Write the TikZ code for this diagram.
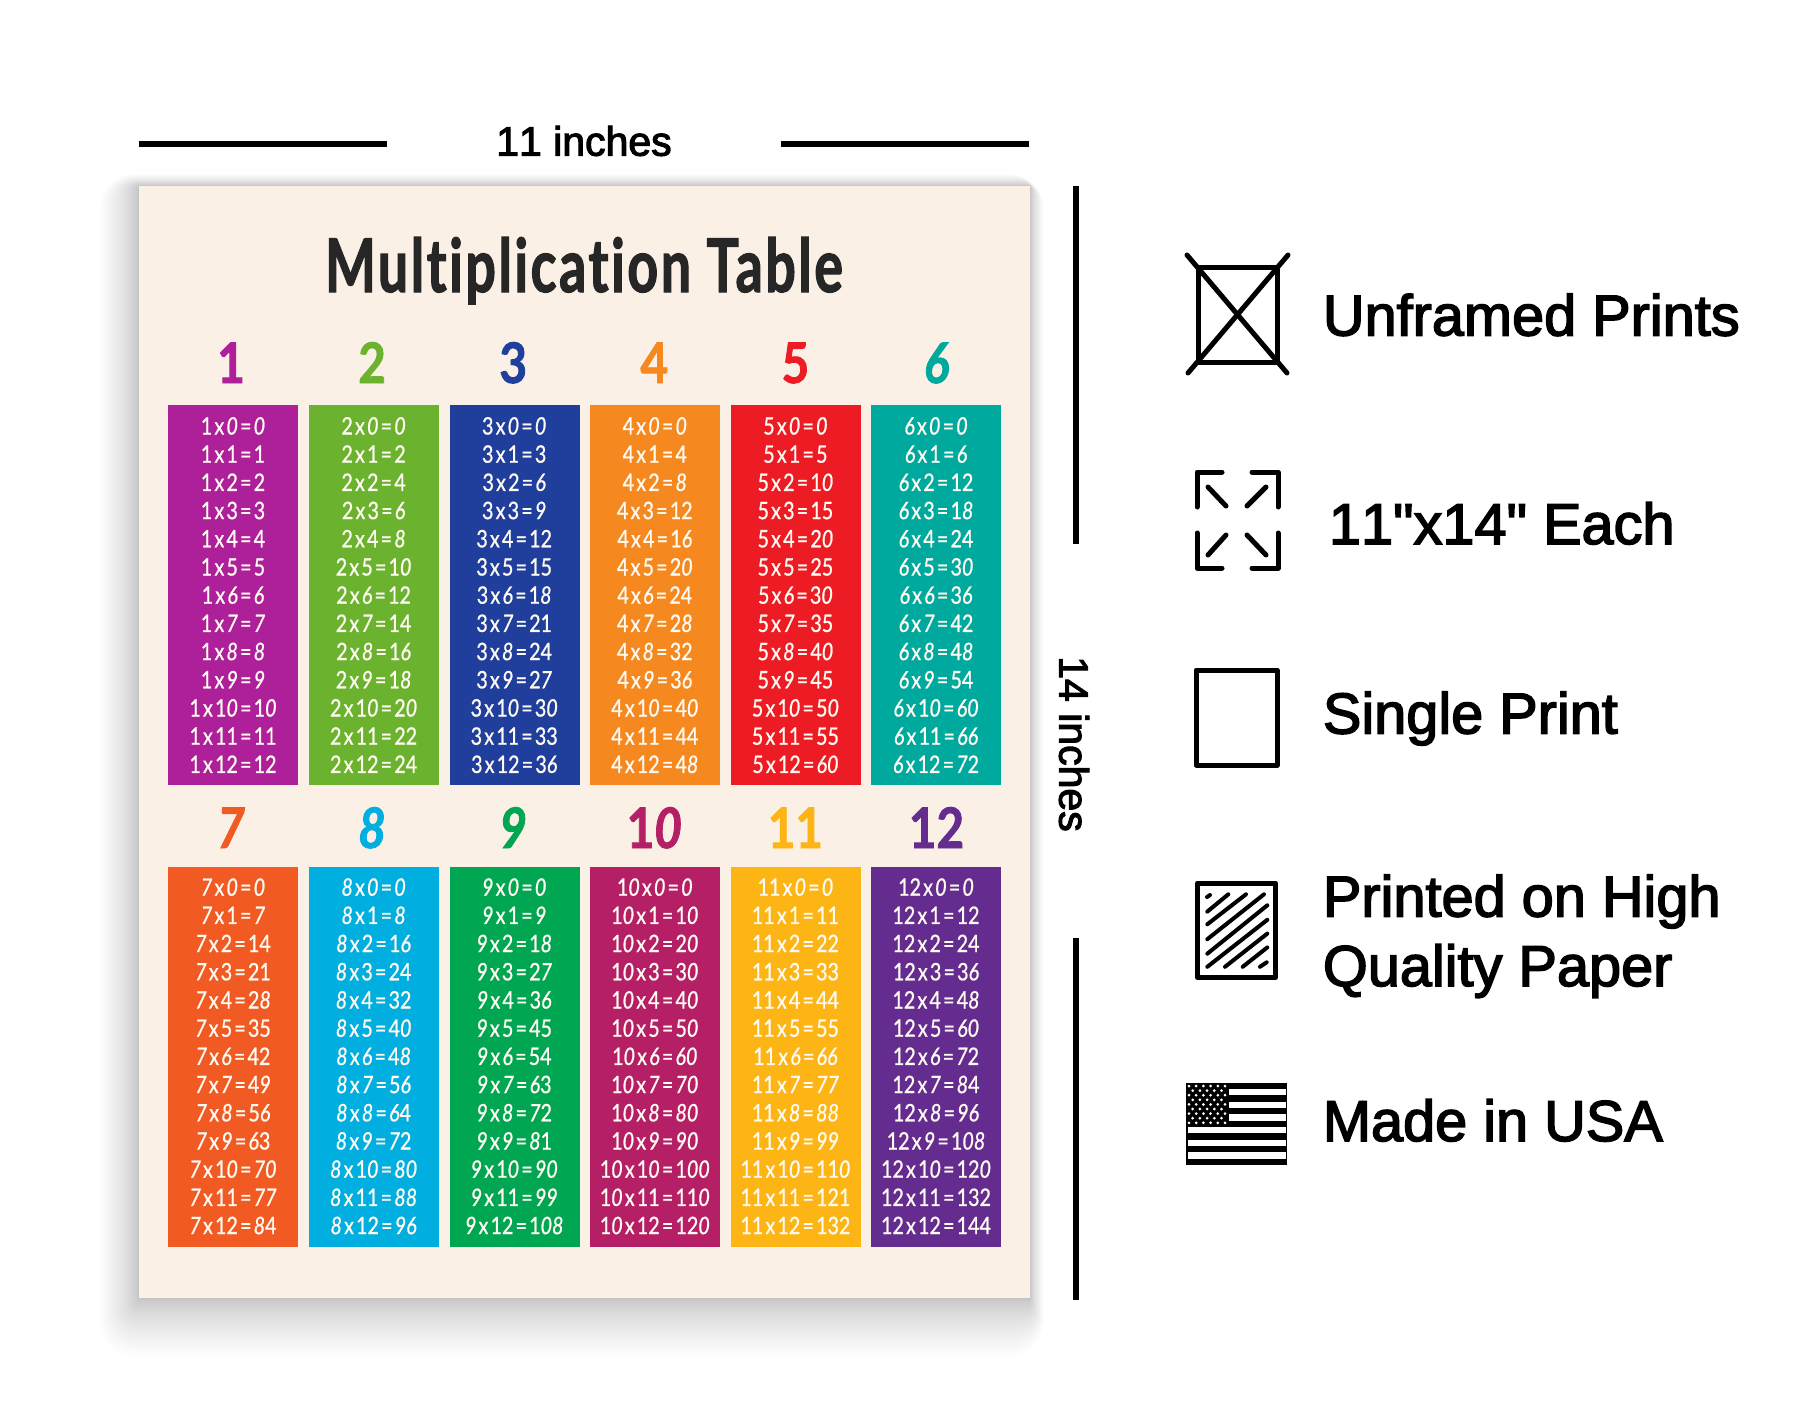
\documentclass[tikz,border=0pt]{standalone}
\usepackage{fontspec}
\setmainfont{Liberation Sans}
\newfontfamily\tabfont{Lato}[FakeStretch=.82,FakeBold=.9]
\newfontfamily\headfont{Lato}[FakeStretch=.85,FakeBold=1.5]
\newfontfamily\titlefont{Lato}[FakeStretch=.725,FakeBold=1.5,LetterSpace=3.5,Ligatures={NoCommon,NoRare,NoContextual}]
\newfontfamily\sidefont{Liberation Sans}[FakeBold=2.6,Kerning=Off]
\definecolor{c1}{HTML}{AE1F9A}
\definecolor{c2}{HTML}{6BB32E}
\definecolor{c3}{HTML}{203E9C}
\definecolor{c4}{HTML}{F5881F}
\definecolor{c5}{HTML}{ED1C24}
\definecolor{c6}{HTML}{00A99D}
\definecolor{c7}{HTML}{F15A22}
\definecolor{c8}{HTML}{00AEDF}
\definecolor{c9}{HTML}{00A651}
\definecolor{c10}{HTML}{B41F66}
\definecolor{c11}{HTML}{FDB515}
\definecolor{c12}{HTML}{652C90}
\definecolor{paper}{HTML}{FAF0E6}
\definecolor{ink}{HTML}{262626}
\definecolor{chalk}{HTML}{FFFAF2}
\def\digone#1{\ifcase#1\relax\textit{0}\or 1\or 2\or 3\or 4\or 5\or\textit{6}\or\textit{7}\or\textit{8}\or\textit{9}\fi}
\def\digscan#1{\ifx#1\relax\else\digone{#1}\expandafter\digscan\fi}
\newcommand\slantnum[1]{\edef\slanttmp{#1}\expandafter\digscan\slanttmp\relax}
\newcommand\eqline[3]{\slantnum{#1}\kern1.1pt x\kern1.1pt\slantnum{#2}\kern1.1pt=\kern1.1pt\slantnum{#3}}
\tikzset{
  paperbox/.style={fill=paper,draw=none},
  colbox/.style={draw=none,inner sep=0pt,minimum width=65pt,anchor=north west},
  headlabel/.style={font=\headfont\bfseries\fontsize{28}{28}\selectfont,inner sep=0pt,anchor=base},
  eqlabel/.style={font=\tabfont\fontsize{12}{12}\selectfont,text=chalk,inner sep=0pt,anchor=base},
  sidelabel/.style={font=\sidefont\fontsize{28.85}{28.85}\selectfont,anchor=base west,inner sep=0pt},
  dimlabel/.style={font=\sidefont\fontsize{20.5}{20.5}\selectfont,inner sep=0pt},
  dimline/.style={line width=3pt,black},
  iconline/.style={line width=2.5pt,black,line cap=round,line join=round},
  hatchline/.style={line width=2pt,black,line cap=round},
}
\begin{document}
\begin{tikzpicture}[x=.5pt,y=-.5pt]
\useasboundingbox (0,0) rectangle (1800,1414);
\fill[white] (0,0) rectangle (1800,1414);
% soft shadow
\foreach \s in {1,...,30}{
  \pgfmathsetmacro\f{(\s/30)^1.5}
  \fill[black,opacity=.0065,rounded corners=\f*18pt]
    (139-\f*40,186-\f*12) rectangle (1030+\f*14,1298+\f*58);
}
\fill[paperbox] (139,186) rectangle (1030,1298);
\node[font=\titlefont\bfseries\fontsize{37}{37}\selectfont,text=ink,inner sep=0pt,anchor=base] (title) at (584,292) {Multiplication Table};
% columns
\foreach \n in {1,...,12}{
  \pgfmathtruncatemacro\ci{mod(\n-1,6)}
  \pgfmathsetmacro\xl{168+140.6*\ci}
  \pgfmathtruncatemacro\rw{(\n-1)/6}
  \pgfmathsetmacro\yt{\rw==0?405:867}
  \pgfmathsetmacro\hy{\rw==0?383:848}
  \pgfmathsetmacro\ey{\rw==0?434.5:895.7}
  \node[colbox,fill=c\n,minimum height=190pt] (col\n) at (\xl,\yt) {};
  \node[headlabel,text=c\n] (head\n) at (\xl+63+\ci*.5,\hy) {\slantnum{\n}};
  \foreach \m in {0,...,12}{
    \pgfmathtruncatemacro\r{\n*\m}
    \node[eqlabel] (eq\n-\m) at (\xl+65,\ey+28.2*\m) {\eqline{\n}{\m}{\r}};
  }
}
% dimension marks
\node[dimlabel] (wlabel) at (584,141) {11 inches};
\coordinate (wa) at (139,144); \coordinate (wb) at (387,144);
\coordinate (wc) at (781,144); \coordinate (wd) at (1029,144);
\draw[dimline] (wa) -- (wb);
\draw[dimline] (wc) -- (wd);
\node[dimlabel,rotate=-90] (hlabel) at (1074,744) {14 inches};
\coordinate (ha) at (1076,186); \coordinate (hb) at (1076,544);
\coordinate (hc) at (1076,938); \coordinate (hd) at (1076,1300);
\draw[dimline] (ha) -- (hb);
\draw[dimline] (hc) -- (hd);
% icon: unframed
\draw[iconline] (1198,267) rectangle (1277,362);
\draw[iconline] (1187,255) -- (1287,373);
\draw[iconline] (1288,255) -- (1188,373);
% icon: size
\draw[iconline] (1222,472) -- (1197,472) -- (1197,507);
\draw[iconline] (1252,472) -- (1278,472) -- (1278,507);
\draw[iconline] (1197,533) -- (1197,568) -- (1222,568);
\draw[iconline] (1278,533) -- (1278,568) -- (1252,568);
\draw[iconline] (1208,487) -- (1226,506);
\draw[iconline] (1266,487) -- (1247,506);
\draw[iconline] (1208,555) -- (1226,535);
\draw[iconline] (1266,555) -- (1247,535);
% icon: single
\draw[iconline] (1196,670) rectangle (1277,765);
% icon: paper
\draw[iconline] (1197.5,883) rectangle (1275.5,977.5);
\draw[hatchline] (1207,897) -- (1210,895);
\draw[hatchline] (1207.3,911.6) -- (1228.3,894.3);
\draw[hatchline] (1207.3,924.3) -- (1246,894.3);
\draw[hatchline] (1207.3,939.2) -- (1264,894.3);
\draw[hatchline] (1207.3,953.7) -- (1267.3,905.3);
\draw[hatchline] (1207.3,966.8) -- (1267.3,919.8);
\draw[hatchline] (1225,966.8) -- (1267.3,933.6);
\draw[hatchline] (1242.7,966.8) -- (1267.3,947.4);
\draw[hatchline] (1260,966.8) -- (1266.7,962.3);
% icon: flag
\fill[black] (1186,1082.5) rectangle (1287,1165);
\foreach \k in {0,...,5}{
  \pgfmathsetmacro\sy{1082.5+6.35*(2*\k+1)}
  \pgfmathsetmacro\sx{\k<3?1229:1187.5}
  \fill[white] (\sx,\sy) rectangle (1285.5,\sy+6.35);
}
\foreach \rr in {0,...,8}{
  \pgfmathsetmacro\dy{1086+4.6*\rr}
  \pgfmathtruncatemacro\odd{mod(\rr,2)}
  \ifnum\odd=0
    \foreach \i in {0,...,5}{\fill[white] (1189+7.2*\i,\dy) circle[radius=.75pt];}
  \else
    \foreach \i in {0,...,4}{\fill[white] (1192.7+7.2*\i,\dy) circle[radius=.75pt];}
  \fi
}
% side labels
\node[sidelabel] (s1) at (1322.5,335.5) {Unframed Prints};
\node[sidelabel] (s2) at (1328.5,544) {11"x14" Each};
\node[sidelabel] (s3) at (1322.5,733.5) {Single Print};
\node[sidelabel] (s4) at (1322.5,916.5) {Printed on High};
\node[sidelabel] (s5) at (1322.5,986) {Quality Paper};
\node[sidelabel] (s6) at (1322.5,1141) {Made in USA};
\end{tikzpicture}
\end{document}
